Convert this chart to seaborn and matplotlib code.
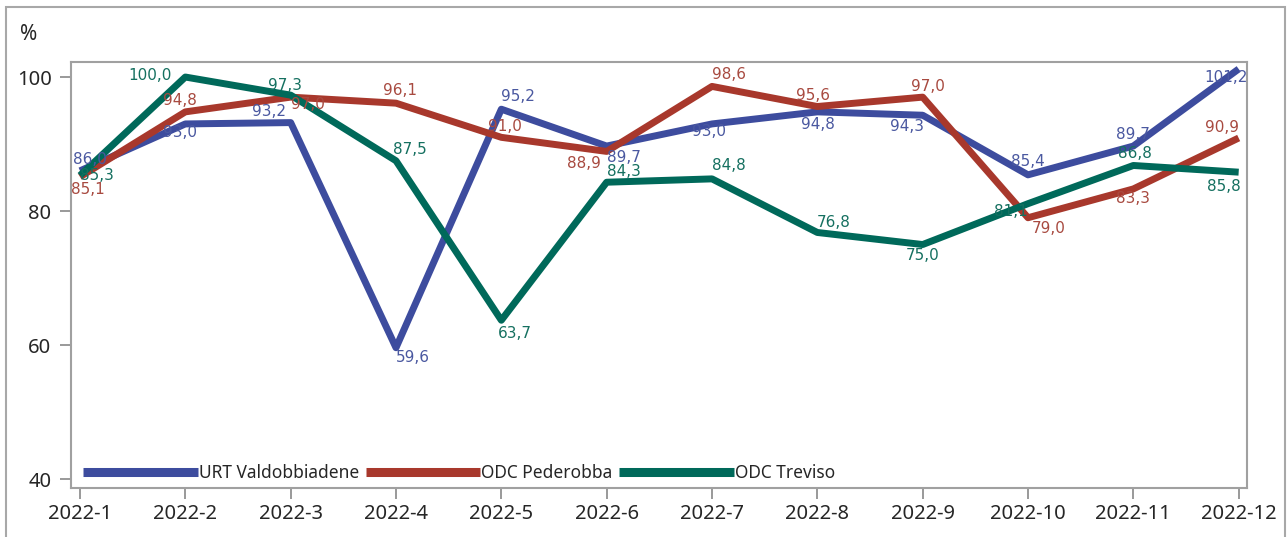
import pandas as pd
import seaborn as sns
import matplotlib.pyplot as plt
from matplotlib.patches import Rectangle

months = ['2022-1', '2022-2', '2022-3', '2022-4', '2022-5', '2022-6',
          '2022-7', '2022-8', '2022-9', '2022-10', '2022-11', '2022-12']
urt_valdobbiadene = [86.0, 93.0, 93.2, 59.6, 95.2, 89.7, 93.0, 94.8, 94.3, 85.4, 89.7, 101.2]
odc_pederobba = [85.1, 94.8, 97.0, 96.1, 91.0, 88.9, 98.6, 95.6, 97.0, 79.0, 83.3, 90.9]
odc_treviso = [85.3, 100.0, 97.3, 87.5, 63.7, 84.3, 84.8, 76.8, 75.0, 81.1, 86.8, 85.8]
series_names = ['URT Valdobbiadene', 'ODC Pederobba', 'ODC Treviso']

line_colors = ['#3d4c9e', '#a8382c', '#00695a']
text_colors = ['#4a58a0', '#a84a40', '#157060']

# label offsets in pixels (dx, dy), picked by eye so labels don't overlap
offsets = {
    'URT Valdobbiadene': [(10, 11), (-5, -9), (-22, 11), (17, -10), (17, 13), (17, -11),
                          (-3, -8), (1, -13), (-16, -11), (0, 13), (0, 12), (-13, -9)],
    'ODC Pederobba': [(8, -13), (-5, 11), (17, -7), (4, 13), (4, 11), (-23, -12),
                      (17, 12), (-4, 11), (5, 11), (21, -11), (0, -10), (-17, 11)],
    'ODC Treviso': [(17, 0), (-35, 2), (-6, 10), (14, 11), (14, -13), (17, 11),
                    (17, 13), (16, 10), (0, -11), (-17, -8), (2, 12), (-15, -14)],
}

df = pd.DataFrame({
    'month': months * 3,
    'x': list(range(len(months))) * 3,
    'value': urt_valdobbiadene + odc_pederobba + odc_treviso,
    'series': [s for s in series_names for _ in months],
})

sns.set_style("white")
plt.rcParams['font.family'] = ['DejaVu Sans']

fig = plt.figure(figsize=(12.87, 5.37), dpi=100)
ax = fig.add_axes([0.0552, 0.0912, 0.9138, 0.7933])

sns.lineplot(data=df, x='x', y='value', hue='series', palette=line_colors,
             linewidth=5, ax=ax, sort=False, solid_capstyle='butt')

for name, tcol, vals in zip(series_names, text_colors,
                            [urt_valdobbiadene, odc_pederobba, odc_treviso]):
    for i, v in enumerate(vals):
        dx, dy = offsets[name][i]
        ax.annotate(f'{v:.1f}'.replace('.', ','), (i, v), xytext=(dx, dy),
                    textcoords='offset pixels', ha='center', va='center',
                    fontsize=11, color=tcol)

ax.set_xlim(-0.085, 11.08)
ax.set_ylim(38.66, 102.24)
ax.set_xticks(range(len(months)))
ax.set_xticklabels(months, fontsize=14.5, family='Noto Sans')
ax.set_yticks([40, 60, 80, 100])
ax.set_yticklabels(['40', '60', '80', '100'], fontsize=14.5, family='Noto Sans')
ax.set_xlabel('')
ax.set_ylabel('')
ax.tick_params(axis='both', direction='out', length=8, width=1.2, color='#888888',
               left=True, bottom=True)
ax.tick_params(axis='y', pad=6)
for sp in ax.spines.values():
    sp.set_color('#a0a0a0')
    sp.set_linewidth(1.5)

fig.text(0.0155, 0.935, '%', fontsize=15, family='Noto Sans', ha='left', va='center')

leg = ax.legend(loc='lower left', ncol=3, frameon=False, handlelength=6.6,
                handletextpad=0.05, columnspacing=0.4, fontsize=12.5,
                bbox_to_anchor=(0.0, -0.015), borderaxespad=0.3)
for line in leg.get_lines():
    line.set_linewidth(6.5)
    line.set_solid_capstyle('butt')
for t in leg.get_texts():
    t.set_family('Noto Sans')

fig.patches.append(Rectangle((6 / 1287, -0.05), 1279 / 1287, 1.037, transform=fig.transFigure,
                             fill=False, edgecolor='#a8a8a8', linewidth=1.5))

fig.savefig('out.png', dpi=100)
